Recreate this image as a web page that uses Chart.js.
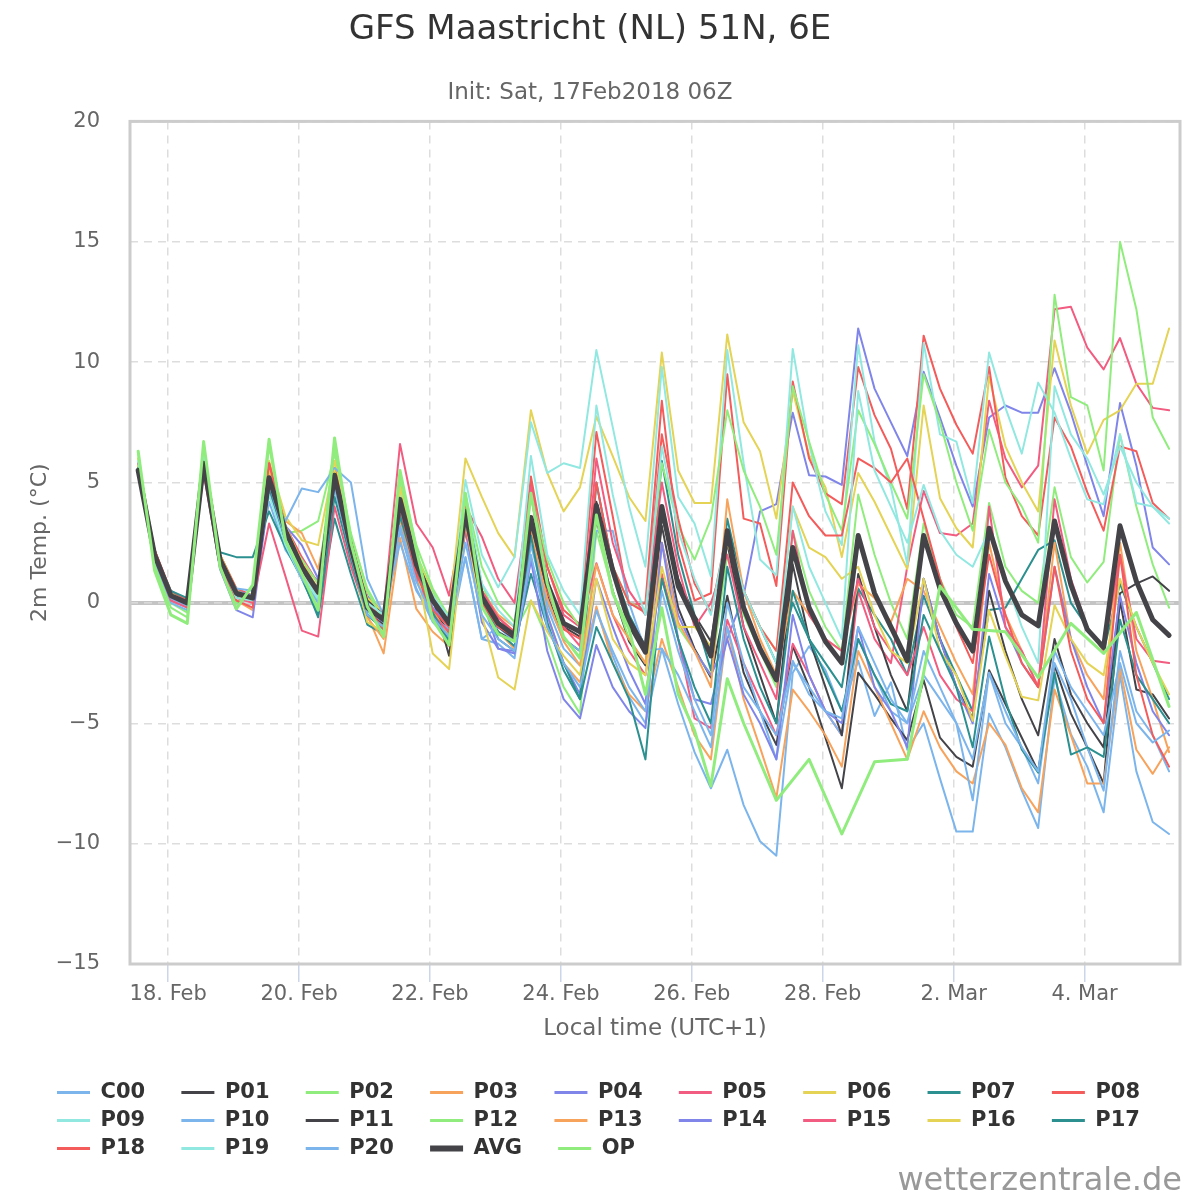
<!DOCTYPE html>
<html lang="en">
<head>
<meta charset="UTF-8">
<title>GFS Maastricht (NL) 51N, 6E</title>
<style>
  html, body { margin: 0; padding: 0; background: #ffffff; }
</style>
</head>
<body>
<canvas id="myChart" width="1200" height="1200"></canvas>

<script src="https://cdn.jsdelivr.net/npm/chart.js"></script>
<script>
// time axis: hours since 17 Feb 00:00 local, one value every 6 h from 17 Feb 13:00
const firstHour = 13;
const stepHours = 6;
const tickHours = [24, 72, 120, 168, 216, 264, 312, 360];
const tickLabels = ['18. Feb', '20. Feb', '22. Feb', '24. Feb', '26. Feb', '28. Feb', '2. Mar', '4. Mar'];

// 2m temperature (°C), 4 values per day (13h, 19h, 01h, 07h)
const c00 = [5.8, 1.8, 0.1, -0.2, 6.0, 1.6, 0.0, 0.3, 4.2, 2.2, 1.2, 0.2, 4.6, 1.9, 0.1, -0.9,
  3.0, 0.6, -0.8, -1.5, 1.9, -1.5, -1.7, -2.3, 2.4, -0.2, -1.9, -2.6, -0.3, -2.2, -3.9, -5.0,
  -1.9, -4.2, -6.2, -7.7, -6.1, -8.4, -9.9, -10.5, -2.9, -1.8, -2.8, -4.5, -2.4, -4.7, -3.3, -6.1,
  -5.0, -7.3, -9.5, -9.5, -4.6, -6.0, -7.8, -9.35, -3.1, -5.45, -6.8, -8.7, -3.0, -7.0, -9.1, -9.6];
const p01 = [5.5, 2.2, 0.4, 0.1, 5.6, 1.9, 0.5, 0.3, 5.0, 2.8, 1.4, 0.3, 5.2, 2.0, -0.4, -0.9,
  4.0, 1.2, -0.3, -1.2, 3.5, 0.0, -1.2, -1.6, 3.2, 0.3, -1.5, -2.0, 3.5, 0.5, -1.6, -2.6,
  3.2, -0.2, -1.9, -3.1, 0.3, -2.9, -4.5, -5.9, -1.8, -3.5, -5.6, -7.7, -2.9, -3.8, -4.8, -5.7,
  -3.2, -5.6, -6.4, -6.8, -2.8, -4.2, -5.6, -7.0, -2.6, -4.6, -6.0, -7.5, 0.1, -3.6, -3.8, -4.8];
const p02 = [6.0, 1.6, 0.0, -0.4, 6.3, 1.7, 0.2, 0.3, 5.8, 2.9, 3.0, 3.4, 6.2, 2.8, 0.6, -0.6,
  5.0, 2.0, 0.5, -1.0, 4.4, 0.8, -0.8, -1.2, 0.1, -1.5, -3.5, -4.6, 3.0, 0.5, -1.5, -2.5,
  1.0, -1.0, -2.0, -3.0, 2.0, -0.5, -2.0, -3.5, 3.0, 0.5, -1.0, -2.0, 4.5, 2.0, 0.0, -1.5,
  3.3, 1.0, -0.5, -1.0, 4.15, 1.5, 0.5, 0.0, 4.8, 1.9, 0.85, 1.7, 7.0, 4.0, 1.6, -0.2];
const p03 = [5.7, 2.0, 0.2, -0.1, 5.5, 1.5, 0.1, -0.3, 5.5, 3.4, 2.9, 1.4, 4.8, 2.0, -0.5, -2.1,
  2.7, -0.25, -1.2, -1.8, 3.2, 0.0, -1.2, -1.9, 2.8, -0.5, -2.5, -3.3, -0.15, -2.5, -3.8, -4.5,
  -1.5, -3.5, -5.5, -6.5, -1.0, -4.0, -6.0, -8.1, -3.6, -4.5, -5.5, -6.8, -2.0, -3.5, -5.0, -6.5,
  -4.5, -6.0, -7.0, -7.5, -5.0, -5.9, -7.7, -8.7, -3.6, -5.5, -7.5, -7.5, -2.7, -6.1, -7.1, -6.0];
const p04 = [5.6, 1.9, 0.2, -0.1, 5.6, 1.4, -0.3, -0.6, 4.6, 2.6, 1.6, 0.9, 4.9, 2.0, 0.3, -0.5,
  3.8, 1.0, -0.6, -1.6, 3.0, -0.8, -1.9, -2.0, 1.8, -0.5, -2.5, -3.8, 1.0, -1.0, -2.8, -4.2,
  2.5, -0.5, -2.0, -3.0, -1.5, 0.3, 3.8, 4.1, 7.9, 5.3, 5.25, 4.9, 11.4, 8.9, 7.5, 6.1,
  9.6, 7.7, 5.7, 4.0, 7.7, 8.2, 7.9, 7.9, 9.75, 7.9, 5.7, 3.6, 8.3, 5.7, 2.3, 1.6];
const p05 = [5.6, 2.0, 0.3, 0.0, 5.9, 1.8, 0.3, 0.1, 5.6, 3.2, 1.9, 0.8, 5.2, 2.5, 0.2, -0.4,
  6.6, 3.3, 2.3, 0.3, 4.0, 2.75, 1.0, 0.0, 5.0, 1.5, -0.5, -1.0, 1.65, -0.5, -2.0, -3.0,
  1.2, -1.5, -4.8, -5.2, -0.7, -2.5, -4.0, -5.5, -1.7, -3.0, -4.5, -5.5, 0.5, -1.5, -2.5, 1.5,
  4.65, 2.9, 2.8, 3.3, 8.4, 6.0, 4.8, 5.7, 12.2, 12.3, 10.6, 9.7, 11.0, 9.1, 8.1, 8.0];
const p06 = [6.0, 2.0, 0.4, 0.2, 6.3, 2.0, 0.6, 0.1, 5.9, 3.6, 2.6, 2.4, 5.9, 2.5, 0.2, -0.4,
  4.6, 2.0, 0.3, -0.5, 6.0, 4.4, 2.9, 1.9, 8.0, 5.4, 3.8, 4.8, 7.75, 6.1, 4.4, 3.4,
  10.4, 5.5, 4.15, 4.15, 11.15, 7.5, 6.3, 3.5, 8.8, 6.15, 4.8, 1.9, 5.4, 4.2, 2.8, 1.4,
  8.2, 4.35, 3.1, 2.3, 9.4, 6.5, 5.0, 3.8, 10.9, 8.2, 6.2, 7.6, 8.0, 9.1, 9.1, 11.4];
const p07 = [5.7, 2.0, 0.4, 0.1, 5.6, 2.1, 1.9, 1.9, 3.8, 2.3, 1.0, -0.5, 3.5, 1.2, -0.9, -1.3,
  3.8, 1.0, -0.5, -1.3, 3.5, 0.0, -1.2, -1.8, 1.2, -1.0, -2.5, -4.0, 5.0, 1.5, -0.5, -1.8,
  5.9, 2.0, -0.5, -2.8, 3.5, 0.5, -1.0, -2.5, 0.0, -1.5, -2.5, -3.5, 0.6, -0.5, -1.5, -3.0,
  0.3, -1.5, -3.0, -4.5, -0.3, -0.2, 1.0, 2.2, 2.6, 0.0, -1.0, -2.0, 0.8, -1.0, -2.5, -4.0];
const p08 = [5.8, 2.2, 0.5, 0.1, 5.9, 2.0, 0.6, 0.3, 5.8, 3.2, 1.8, 0.4, 5.6, 2.6, 0.0, -0.6,
  4.5, 1.8, 0.2, -0.8, 4.0, 0.5, -0.6, -1.2, 5.25, 1.5, -0.3, -0.9, 7.1, 3.6, -0.1, 0.0,
  8.4, 2.5, 0.1, 0.4, 9.5, 3.5, 3.3, 0.7, 9.2, 6.0, 4.55, 4.1, 9.8, 7.8, 6.4, 3.9,
  11.1, 8.9, 7.4, 6.2, 9.8, 5.2, 3.6, 2.8, 7.7, 6.5, 4.6, 3.0, 6.5, 6.3, 4.15, 3.5];
const p09 = [5.7, 2.0, 0.2, 0.0, 6.1, 1.9, 0.4, 0.3, 4.5, 2.4, 1.0, 0.1, 4.6, 1.8, -0.4, -1.0,
  4.5, 1.5, 0.0, -1.0, 5.1, 2.0, 0.65, 1.9, 7.5, 5.4, 5.8, 5.6, 10.5, 7.3, 4.0, 1.5,
  9.8, 4.4, 3.3, 1.1, 10.5, 5.8, 1.8, 1.15, 10.55, 6.6, 3.8, 2.4, 10.7, 6.7, 4.8, 1.6,
  10.8, 7.0, 6.7, 4.15, 10.4, 8.1, 6.2, 9.15, 7.9, 6.0, 4.3, 4.1, 7.0, 4.15, 4.0, 3.3];
const p10 = [5.6, 1.8, 0.0, -0.3, 5.7, 1.5, 0.6, 0.5, 4.8, 3.4, 4.75, 4.6, 5.6, 5.0, 1.0, -0.5,
  2.5, 0.5, -0.6, -1.1, 1.9, -1.5, -1.0, -1.6, 2.75, 0.0, -1.5, -2.0, 3.0, 3.0, 0.0, -2.0,
  -1.9, -3.0, -4.5, -6.0, -1.0, -3.5, -4.5, -6.5, -2.5, -3.5, -4.5, -5.5, -1.5, -3.0, -4.5, -5.0,
  -3.0, -4.0, -5.0, -6.5, -2.9, -5.0, -6.0, -7.5, -2.5, -4.0, -6.0, -7.8, -2.0, -4.5, -5.5, -7.0];
const p11 = [5.4, 2.1, 0.3, 0.0, 5.7, 1.7, 0.3, 0.1, 5.1, 3.1, 1.6, 0.5, 5.0, 2.4, 0.1, -0.5,
  4.2, 1.8, 0.2, -2.2, 3.6, 0.4, -1.0, -1.5, 3.4, 0.6, -1.0, -1.4, 4.2, 1.4, -0.6, -1.8,
  3.6, 1.0, -0.5, -1.6, 2.5, -1.0, -3.0, -5.0, 1.6, -1.5, -3.5, -5.5, 1.2, -1.0, -3.0, -4.5,
  1.0, -1.5, -3.5, -4.8, 0.5, -2.0, -4.0, -5.5, -1.5, -3.8, -5.0, -6.0, 0.4, 0.8, 1.1, 0.5];
const p12 = [6.2, 1.5, -0.2, -0.6, 6.5, 1.6, 0.0, 0.4, 6.5, 2.8, 1.8, 0.8, 6.5, 2.9, 0.5, -0.8,
  5.3, 2.4, 0.6, -0.6, 4.5, 1.5, 0.0, -0.8, 4.55, 1.8, 0.0, -1.0, 4.0, 1.5, 0.0, -0.3,
  5.8, 3.2, 1.8, 3.5, 8.0, 5.5, 4.0, 2.0, 9.0, 6.7, 4.5, 3.0, 8.0, 6.6, 5.0, 3.5,
  9.5, 7.5, 5.0, 3.0, 7.2, 5.0, 4.0, 2.5, 12.8, 8.55, 8.2, 5.5, 15.0, 12.2, 7.7, 6.4];
const p13 = [5.6, 2.1, 0.3, 0.0, 5.9, 1.9, 0.3, 0.0, 5.0, 2.6, 1.2, 0.3, 5.0, 1.8, -0.6, -1.5,
  3.5, 0.9, -0.3, -1.4, 3.2, 0.5, -0.5, -1.0, 3.0, 0.2, -1.6, -2.6, 1.6, -0.5, -1.5, -2.5,
  2.5, -0.8, -2.0, -3.5, 4.3, 0.5, -1.5, -3.0, 0.5, -0.5, -1.5, -2.0, 0.8, 0.2, -0.8, 1.0,
  0.5, -1.0, -2.5, -3.8, 2.5, -0.5, -2.0, -3.5, 2.5, -1.5, -3.0, -4.0, 2.5, -2.0, -4.0, -6.2];
const p14 = [5.4, 2.0, 0.2, 0.0, 5.5, 1.6, 0.5, 0.3, 5.3, 3.2, 2.4, 1.0, 5.0, 2.2, -0.3, -0.8,
  4.0, 1.4, -0.2, -1.0, 3.6, 0.2, -1.9, -2.1, 1.8, -2.0, -4.0, -4.8, -1.75, -3.5, -4.5, -5.2,
  2.5, -1.5, -4.0, -4.2, -1.5, -3.8, -5.0, -6.5, -0.5, -3.0, -4.5, -5.0, -1.0, -3.5, -4.5, -6.0,
  1.0, -1.5, -3.5, -5.0, 1.2, -1.0, -2.5, -3.5, 1.5, -1.5, -3.5, -5.0, 0.3, -2.5, -4.5, -5.5];
const p15 = [5.6, 1.9, 0.1, -0.2, 5.4, 1.5, 0.2, 0.0, 3.3, 1.1, -1.15, -1.4, 4.0, 1.5, -0.5, -1.0,
  4.0, 1.0, -0.5, -1.2, 3.0, 0.5, -0.6, -1.3, 4.8, 1.0, -1.0, -1.8, 6.0, 2.5, 0.5, -0.5,
  5.0, 1.5, -1.0, 0.0, 2.0, -1.0, -2.5, -4.0, 3.0, -0.5, -1.5, -2.0, 1.0, -1.0, -2.0, -3.0,
  -1.0, -3.0, -4.0, -4.5, 4.0, -1.0, -2.0, -3.5, 4.3, 1.0, -1.0, -2.0, 2.0, -1.5, -2.4, -2.5];
const p16 = [5.7, 2.1, 0.4, 0.0, 5.8, 2.0, 0.5, 0.2, 5.5, 3.2, 1.7, 0.6, 5.5, 2.0, -0.8, -1.2,
  4.8, 1.5, -2.1, -2.75, 3.4, -0.5, -3.1, -3.6, 0.1, -1.2, -2.2, -3.0, 1.0, -1.5, -2.5, -3.0,
  1.5, -1.0, -1.0, -1.8, 2.5, 0.5, -1.0, -2.0, 4.0, 2.3, 1.9, 1.0, 1.5, -0.5, -2.0, -2.5,
  1.0, -2.0, -3.0, -4.9, -0.3, -2.2, -3.9, -4.05, -0.1, -1.5, -2.5, -3.0, 1.0, -1.0, -2.5, -3.8];
const p17 = [5.6, 2.1, 0.5, 0.2, 5.7, 1.8, 0.3, 0.2, 4.8, 2.6, 1.1, -0.6, 4.4, 1.8, -0.5, -1.1,
  3.6, 1.3, -0.4, -1.6, 3.4, 0.3, -1.5, -2.0, 2.8, -0.8, -2.8, -4.0, -1.0, -2.5, -4.0, -6.5,
  1.0, -1.5, -3.5, -5.0, 1.5, -1.5, -3.5, -5.0, 0.5, -1.5, -3.0, -4.5, -1.5, -3.0, -4.2, -4.5,
  -0.5, -2.0, -3.5, -6.0, -1.4, -4.05, -6.1, -7.05, -2.9, -6.3, -6.0, -6.4, -0.7, -3.0, -4.0, -5.0];
const p18 = [5.5, 2.2, 0.3, -0.1, 6.0, 2.0, 0.1, -0.2, 5.8, 3.0, 1.6, 0.4, 5.0, 2.0, -0.2, -1.1,
  4.0, 1.2, -0.3, -1.0, 3.5, 0.0, -1.0, -1.4, 4.5, 0.5, -1.1, -1.5, 5.0, 1.5, 0.0, -0.4,
  7.0, 3.5, 0.8, -0.4, 3.0, 0.5, -1.0, -2.0, 5.0, 3.6, 2.8, 2.8, 6.0, 5.6, 5.0, 6.0,
  3.5, 1.0, -1.0, -2.5, 2.0, -0.5, -2.5, -3.5, 1.5, -2.0, -4.0, -5.0, 2.0, -3.0, -5.5, -6.8];
const p19 = [5.9, 2.0, 0.3, 0.0, 6.2, 1.8, 0.2, 0.1, 5.0, 2.8, 1.2, 0.2, 5.0, 2.3, 0.0, -0.5,
  4.2, 1.6, 0.3, -0.6, 4.5, 0.8, -0.3, -1.0, 6.1, 2.0, 0.5, -0.5, 8.2, 4.5, 1.5, -0.5,
  6.5, 3.0, 1.0, -0.5, 3.0, 0.5, -1.0, -2.5, 4.0, 1.5, 0.0, -1.5, 8.8, 5.5, 4.0, 2.5,
  4.9, 3.0, 2.0, 1.5, 3.0, 1.0, -1.0, -2.5, 9.0, 7.0, 6.0, 4.5, 6.5, 5.0, 4.0, 3.5];
const p20 = [5.4, 1.9, 0.2, -0.1, 5.6, 1.7, 0.4, 0.2, 5.0, 2.6, 1.0, 0.0, 4.8, 2.0, -0.5, -1.0,
  3.2, 0.9, -0.6, -1.4, 2.5, -0.5, -1.5, -2.0, 2.0, -1.0, -2.5, -3.5, -0.3, -2.0, -3.5, -4.5,
  0.5, -2.0, -4.0, -5.5, 0.0, -2.5, -4.5, -5.5, -2.4, -3.8, -4.5, -4.8, -1.0, -2.5, -4.0, -5.0,
  -2.0, -3.5, -5.0, -8.2, -2.9, -4.5, -6.0, -7.0, -2.0, -3.5, -4.5, -5.5, -2.5, -5.0, -5.8, -5.3];
const avg = [5.5, 2.0, 0.3, 0.0, 5.8, 1.8, 0.4, 0.2, 5.2, 3.0, 1.5, 0.45, 5.3, 2.3, -0.2, -0.7,
  4.3, 1.6, 0.1, -0.85, 3.8, 0.25, -0.85, -1.35, 3.55, 0.8, -0.85, -1.2, 4.05, 1.35, -0.85, -2.05,
  4.0, 0.7, -0.7, -2.2, 3.0, -0.2, -1.9, -3.2, 2.3, -0.2, -1.6, -2.5, 2.8, 0.4, -1.0, -2.4,
  2.8, 0.6, -0.85, -2.0, 3.1, 0.9, -0.5, -0.95, 3.4, 0.75, -1.1, -1.85, 3.2, 0.9, -0.7, -1.35];
// operational run: 12-hourly after 27 Feb 07h
const op = [6.3, 1.35, -0.5, -0.85, 6.7, 1.5, -0.25, 0.75, 6.8, 2.6, 1.2, -0.3, 6.85, 2.5, -0.15, -1.4,
  5.5, 2.2, -0.7, -1.75, 4.55, -0.15, -1.3, -1.6, 4.55, 0.8, -1.4, -2.3, 3.65, 0.4, -1.1, -3.8,
  -0.2, -3.8, -5.3, -7.6, -3.15, -5.0, -6.6, -8.2, null, -6.5, null, -9.6, null, -6.6, null, -6.5,
  null, 0.7, null, -1.1, null, -1.2, null, -3.1, null, -0.85, null, -2.1, null, -0.4, null, -4.3];

const names = ['C00', 'P01', 'P02', 'P03', 'P04', 'P05', 'P06', 'P07', 'P08', 'P09', 'P10',
  'P11', 'P12', 'P13', 'P14', 'P15', 'P16', 'P17', 'P18', 'P19', 'P20', 'AVG', 'OP'];
const series = [c00, p01, p02, p03, p04, p05, p06, p07, p08, p09, p10,
  p11, p12, p13, p14, p15, p16, p17, p18, p19, p20, avg, op];
const palette = ['#7cb5ec', '#434348', '#90ed7d', '#f7a35c', '#8085e9',
  '#f15c80', '#e4d354', '#2b908f', '#f45b5b', '#91e8e1'];

const FONT = '"DejaVu Sans", sans-serif';
Chart.defaults.font.family = FONT;

const datasets = names.map((name, i) => {
  let color = palette[i % 10];
  let width = 2;
  if (name === 'AVG') { color = '#434348'; width = 5; }
  if (name === 'OP') { color = '#90ed7d'; width = 3; }
  return {
    label: name,
    data: series[i].map((v, k) => ({ x: firstHour + k * stepHours, y: v })),
    borderColor: color,
    backgroundColor: color,
    borderWidth: width,
    borderJoinStyle: 'round',
    borderCapStyle: 'round',
    pointRadius: 0,
    pointHoverRadius: 0,
    tension: 0,
    fill: false,
    spanGaps: true,
    order: -i
  };
});

// zero line, plot border and credits
const plotDecor = {
  id: 'plotDecor',
  afterLayout(chart) {
    chart.legend.left = 50;
    chart.legend.right = 1200;
  },
  beforeDatasetsDraw(chart) {
    const { ctx, chartArea: a, scales: { y } } = chart;
    const y0 = y.getPixelForValue(0);
    ctx.save();
    ctx.strokeStyle = '#c4c4c4';
    ctx.lineWidth = 4;
    ctx.beginPath();
    ctx.moveTo(a.left, y0);
    ctx.lineTo(a.right, y0);
    ctx.stroke();
    ctx.strokeStyle = '#e6e6e6';
    ctx.lineWidth = 1;
    ctx.setLineDash([8, 6]);
    ctx.beginPath();
    ctx.moveTo(a.left, y0);
    ctx.lineTo(a.right, y0);
    ctx.stroke();
    ctx.restore();
  },
  afterDraw(chart) {
    const { ctx, chartArea: a } = chart;
    ctx.save();
    ctx.strokeStyle = '#cccccc';
    ctx.lineWidth = 3;
    ctx.strokeRect(a.left, a.top, a.right - a.left, a.bottom - a.top);
    ctx.font = '32px ' + FONT;
    ctx.fillStyle = '#999999';
    ctx.textAlign = 'right';
    ctx.textBaseline = 'alphabetic';
    ctx.fillText('wetterzentrale.de', 1182, 1190);
    ctx.restore();
  }
};

const ctx = document.getElementById('myChart');
const myChart = new Chart(ctx, {
  type: 'line',
  data: { datasets: datasets },
  plugins: [plotDecor],
  options: {
    responsive: false,
    devicePixelRatio: 1,
    animation: false,
    events: [],
    layout: { padding: { left: 0, right: 20, top: 0, bottom: 31 } },
    scales: {
      x: {
        type: 'linear',
        min: 10,
        max: 395,
        afterBuildTicks: (axis) => { axis.ticks = tickHours.map(v => ({ value: v })); },
        afterFit: (axis) => { axis.height = 111; },
        ticks: {
          color: '#666666',
          font: { size: 21 },
          padding: 0,
          maxRotation: 0,
          autoSkip: false,
          callback: (v) => tickLabels[tickHours.indexOf(v)]
        },
        grid: {
          color: '#dddddd',
          lineWidth: 1.5,
          drawTicks: true,
          tickLength: 18,
          tickColor: '#ccd6eb',
          tickWidth: 1.5,
          tickBorderDash: []
        },
        border: { display: false, dash: [8, 6] },
        title: {
          display: true,
          text: 'Local time (UTC+1)',
          color: '#666666',
          font: { size: 23 },
          padding: { top: 4, bottom: 32 }
        }
      },
      y: {
        min: -15,
        max: 20,
        afterFit: (axis) => { axis.width = 130; },
        ticks: {
          stepSize: 5,
          color: '#666666',
          font: { size: 21 },
          padding: 30,
          callback: (v) => (v < 0 ? '\u2212' + Math.abs(v) : String(v))
        },
        grid: { color: '#dddddd', lineWidth: 1.5, drawTicks: false },
        border: { display: false, dash: [8, 6] },
        title: {
          display: true,
          text: '2m Temp. (°C)',
          color: '#666666',
          font: { size: 22 },
          padding: { top: 27, bottom: 0 }
        }
      }
    },
    plugins: {
      title: {
        display: true,
        text: 'GFS Maastricht (NL) 51N, 6E',
        color: '#333333',
        font: { size: 34, weight: 'normal' },
        padding: { top: 10, bottom: 0 }
      },
      subtitle: {
        display: true,
        text: 'Init: Sat, 17Feb2018 06Z',
        color: '#666666',
        font: { size: 23 },
        padding: { top: 28, bottom: 15 }
      },
      legend: {
        position: 'bottom',
        align: 'start',
        labels: {
          color: '#333333',
          font: { size: 21, weight: 'bold' },
          usePointStyle: true,
          pointStyle: 'line',
          pointStyleWidth: 33,
          padding: 7,
          sort: (a, b) => a.datasetIndex - b.datasetIndex,
          generateLabels: (chart) => {
            const items = Chart.defaults.plugins.legend.labels.generateLabels(chart);
            items.forEach(it => {
              it.text = it.text + '    ';
              it.lineWidth = it.text.startsWith('AVG') ? 6 : 3;
              it.pointStyle = 'line';
            });
            return items;
          }
        }
      },
      tooltip: { enabled: false }
    }
  }
});
</script>
</body>
</html>
